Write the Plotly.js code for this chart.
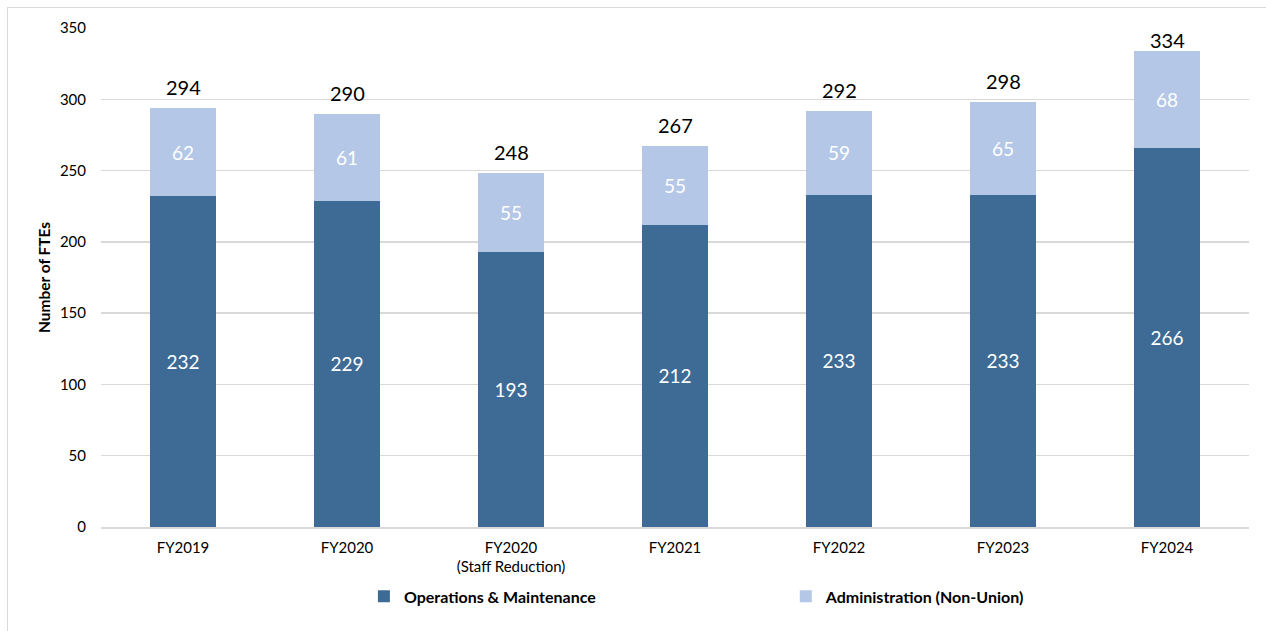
<!DOCTYPE html>
<html>
<head>
<meta charset="utf-8">
<script src="https://cdn.plot.ly/plotly-3.0.1.min.js"></script>
<style>
html,body{margin:0;padding:0;background:#fff;}
#wrap{position:relative;width:1266px;height:631px;}
#frame{position:absolute;left:7px;top:7px;width:1259px;height:624px;border-left:1px solid #d9d9d9;border-top:1px solid #d9d9d9;pointer-events:none;}
#chart{width:1266px;height:631px;}
</style>
</head>
<body>
<div id="wrap"><div id="chart"></div><div id="frame"></div></div>
<script>
const categories = ["FY2019", "FY2020", "FY2020<br>(Staff Reduction)", "FY2021", "FY2022", "FY2023", "FY2024"];
const opsMaint = [232, 229, 193, 212, 233, 233, 266];
const admin = [62, 61, 55, 55, 59, 65, 68];
const totals = [294, 290, 248, 267, 292, 298, 334];
const seriesNames = ["Operations & Maintenance", "Administration (Non-Union)"];

const FONT = "Lato, 'Open Sans', sans-serif";

const traces = [
  {
    type: "bar", name: "<b>" + seriesNames[0] + "</b>", x: categories, y: opsMaint, legend: "legend",
    marker: {color: "#3E6B96"}, text: opsMaint.map(String), textposition: "inside",
    insidetextanchor: "middle", constraintext: "none",
    textfont: {color: "#ffffff", size: 19, family: FONT}, hoverinfo: "skip"
  },
  {
    type: "bar", name: "<b>" + seriesNames[1] + "</b>", x: categories, y: admin, legend: "legend2",
    marker: {color: "#B4C7E7"}, text: admin.map(String), textposition: "inside",
    insidetextanchor: "middle", constraintext: "none",
    textfont: {color: "#ffffff", size: 19, family: FONT}, hoverinfo: "skip"
  }
];

const annotations = categories.map((c, i) => ({
  x: c, y: totals[i], xref: "x", yref: "y", text: String(totals[i]),
  showarrow: false, yanchor: "middle", yshift: i === 6 ? 11 : 21,
  font: {size: 20, color: "#000000", family: FONT}
}));

const legendCommon = {
  orientation: "h", xanchor: "left", yanchor: "middle", y: -0.139,
  itemwidth: 30, bgcolor: "rgba(0,0,0,0)",
  font: {size: 16, family: FONT, color: "#000"}
};

const layout = {
  width: 1266, height: 631,
  margin: {l: 101, r: 17, t: 28, b: 104, autoexpand: false},
  barmode: "stack", bargap: 0.6,
  paper_bgcolor: "#ffffff", plot_bgcolor: "#ffffff",
  font: {family: FONT, color: "#000000"},
  xaxis: {
    type: "category", showgrid: false, showline: true, linecolor: "#d9d9d9", linewidth: 1.5,
    ticks: "", tickfont: {size: 15, family: FONT, color: "#000"}, ticklabelstandoff: 6, automargin: false
  },
  yaxis: {
    range: [0, 350], dtick: 50, showgrid: true, gridcolor: "#d9d9d9", gridwidth: 1.5,
    zeroline: false, showline: false, ticks: "", automargin: false,
    tickfont: {size: 15, family: FONT, color: "#000"}, ticklabelstandoff: 14,
    title: {text: "<b>Number of FTEs</b>", font: {size: 15.5, family: FONT, color: "#000"}, standoff: 5}
  },
  showlegend: true,
  legend: Object.assign({}, legendCommon, {x: 0.229}),
  legend2: Object.assign({}, legendCommon, {x: 0.5965}),
  annotations: annotations
};

Plotly.newPlot("chart", traces, layout, {displayModeBar: false, staticPlot: true});
</script>
</body>
</html>
